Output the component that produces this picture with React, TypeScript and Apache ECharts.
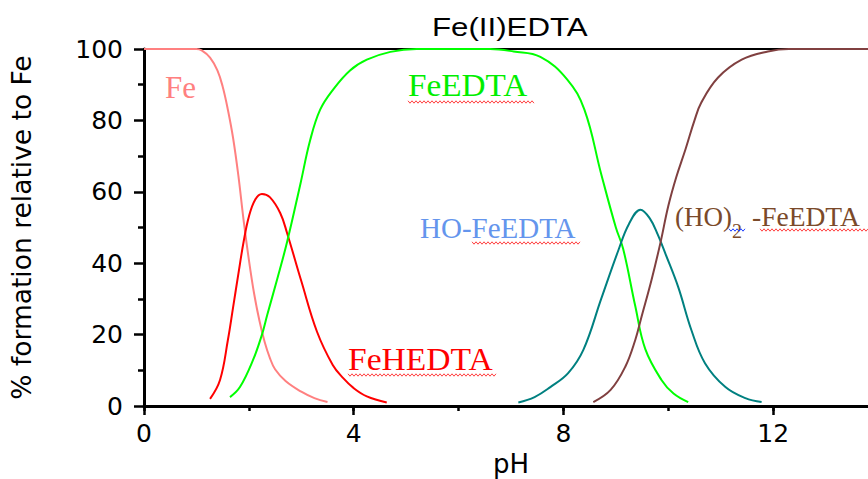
import React, { useEffect, useRef } from 'react';
import * as echarts from 'echarts';

// ---- data ----
const xTicks = [0, 4, 8, 12];
const yTicks = [0, 20, 40, 60, 80, 100];

const fePH = [0, 0.5, 1.0, 1.1, 1.26, 1.4, 1.5, 1.6, 1.7, 1.8, 1.9, 2.0, 2.1, 2.2, 2.3, 2.4, 2.5, 2.7, 3.0, 3.25, 3.5];
const feVal = [100, 100, 100, 99.6, 97.6, 94, 89.5, 83, 75, 64.5, 52, 41, 31.5, 24, 18, 13.5, 10.3, 7, 4, 2.2, 1.1];

const fehPH = [1.26, 1.45, 1.6, 1.7, 1.8, 1.9, 2.0, 2.12, 2.25, 2.4, 2.6, 2.73, 3.0, 3.3, 3.6, 3.8, 4.0, 4.25, 4.63];
const fehVal = [2, 7.3, 18.5, 27.7, 37, 46, 53, 57.8, 59.4, 58.5, 54, 48.4, 35, 20.8, 11.5, 7.8, 5, 2.7, 1];

const fedPH = [1.64, 1.83, 2.08, 2.25, 2.35, 2.54, 2.73, 2.98, 3.17, 3.36, 3.6, 3.93, 4.25, 4.7, 5.2, 6.6, 7.05, 7.56, 8.07, 8.4, 8.72, 9.0, 9.14, 9.37, 9.56, 9.87, 10.1, 10.38];
const fedVal = [2.5, 5.3, 12.9, 20, 25.5, 35.5, 46, 62, 74.5, 83, 88.5, 94, 97, 99.2, 100, 100, 99.3, 97.8, 91.5, 83, 65, 50, 44, 28, 16, 7.3, 3.5, 1.1];

const hoPH = [7.14, 7.45, 7.75, 8.09, 8.38, 8.72, 9.05, 9.25, 9.47, 9.65, 9.8, 9.95, 10.19, 10.44, 10.7, 11.09, 11.47, 11.78];
const hoVal = [1, 2.5, 5.3, 9.2, 15.7, 30, 43.7, 51, 55, 52.5, 48, 42.5, 33.3, 21.3, 12, 5.3, 2.2, 1.1];

const ho2PH = [8.57, 8.9, 9.18, 9.37, 9.49, 9.68, 9.85, 10.0, 10.15, 10.33, 10.5, 10.63, 10.95, 11.4, 11.9, 12.3, 14];
const ho2Val = [1.1, 4.5, 11, 18.5, 25, 35.3, 45.7, 56, 64, 72, 80, 85, 92, 97, 99.3, 100, 100];

const zip = (xs: number[], ys: number[]) => xs.map((x, i) => [x, ys[i]]);

const zigzag = (x0: number, x1: number, y: number, color: string) => {
  const pts: number[][] = [];
  let up = true;
  for (let x = x0; x <= x1; x += 2) {
    pts.push([x, up ? y - 1.2 : y + 1.2]);
    up = !up;
  }
  return { type: 'polyline', silent: true, shape: { points: pts }, style: { stroke: color, lineWidth: 1, fill: null } };
};

const serif = '"Liberation Serif", "Times New Roman", serif';
const sans = '"DejaVu Sans", sans-serif';

export default function App() {
  const ref = useRef<HTMLDivElement>(null);
  useEffect(() => {
    document.body.style.margin = '0';
    if (!ref.current) return;
    const chart = echarts.init(ref.current, undefined, { renderer: 'svg' });
    const lineSeries = (name: string, xs: number[], ys: number[], color: string) => ({
      name,
      type: 'line',
      data: zip(xs, ys),
      showSymbol: false,
      smooth: 0.4,
      clip: false,
      lineStyle: { color, width: 2 },
      itemStyle: { color },
      z: 3,
    });
    const common = { type: 'value', min: 0, max: 14, splitLine: { show: false } };
    chart.setOption({
      animation: false,
      backgroundColor: '#fff',
      grid: { left: 144, top: 49, bottom: 73, right: 0, containLabel: false, outerBoundsMode: 'none' },
      xAxis: [
        {
          ...common,
          interval: 4,
          position: 'bottom',
          axisLine: { show: true, onZero: false, lineStyle: { color: '#000', width: 3 } },
          axisTick: { show: true, length: 9, lineStyle: { color: '#000', width: 2.5 } },
          axisLabel: {
            color: '#000',
            fontFamily: sans,
            fontSize: 25,
            margin: 15,
            showMaxLabel: false,
            formatter: (v: number) => (xTicks.includes(v) ? String(v) : ''),
          },
          name: 'pH',
          nameLocation: 'middle',
          nameGap: 42,
          nameTextStyle: { color: '#000', fontFamily: sans, fontSize: 26 },
        },
        {
          ...common,
          interval: 2,
          position: 'bottom',
          axisLine: { show: false, onZero: false },
          axisTick: { show: true, length: 5, lineStyle: { color: '#000', width: 2.5 } },
          axisLabel: { show: false },
        },
        {
          ...common,
          interval: 4,
          position: 'top',
          axisLine: { show: true, onZero: false, lineStyle: { color: '#000', width: 2 } },
          axisTick: { show: false },
          axisLabel: { show: false },
        },
      ],
      yAxis: {
        type: 'value',
        min: 0,
        max: 100,
        interval: 20,
        axisLine: { show: true, lineStyle: { color: '#000', width: 3 } },
        axisTick: { show: true, length: 10, lineStyle: { color: '#000', width: 2.5 } },
        minorTick: { show: true, splitNumber: 2, length: 6, lineStyle: { color: '#000', width: 2.5 } },
        splitLine: { show: false },
        axisLabel: {
          color: '#000',
          fontFamily: sans,
          fontSize: 25,
          margin: 21,
          formatter: (v: number) => (yTicks.includes(v) ? String(v) : ''),
        },
        name: '% formation relative to Fe',
        nameLocation: 'middle',
        nameGap: 109,
        nameTextStyle: { color: '#000', fontFamily: sans, fontSize: 26.5 },
      },
      series: [
        lineSeries('Fe', fePH, feVal, '#FF8080'),
        lineSeries('FeHEDTA', fehPH, fehVal, '#FF0000'),
        lineSeries('FeEDTA', fedPH, fedVal, '#00FF00'),
        lineSeries('HO-FeEDTA', hoPH, hoVal, '#008080'),
        lineSeries('(HO)2-FeEDTA', ho2PH, ho2Val, '#804040'),
      ],
      graphic: [
        {
          type: 'text', x: 432, y: 27, scaleX: 1.25, silent: true,
          style: { text: 'Fe(II)EDTA', fill: '#000', font: '25px "Liberation Sans", Arial, sans-serif', verticalAlign: 'middle', align: 'left' },
        },
        {
          type: 'text', x: 165, y: 87.5, silent: true,
          style: { text: 'Fe', fill: '#FF8080', font: `31px ${serif}`, verticalAlign: 'middle', align: 'left' },
        },
        {
          type: 'text', x: 408, y: 85.5, scaleX: 1.04, silent: true,
          style: { text: 'FeEDTA', fill: '#00EE00', font: `32px ${serif}`, verticalAlign: 'middle', align: 'left' },
        },
        zigzag(408, 535, 102, '#FF4040'),
        {
          type: 'text', x: 348, y: 359, scaleX: 1.05, silent: true,
          style: { text: 'FeHEDTA', fill: '#FF0000', font: `32px ${serif}`, verticalAlign: 'middle', align: 'left' },
        },
        zigzag(348, 497, 375, '#FF4040'),
        {
          type: 'text', x: 420, y: 228, silent: true,
          style: { text: 'HO-FeEDTA', fill: '#6495ED', font: `29px ${serif}`, verticalAlign: 'middle', align: 'left' },
        },
        zigzag(472, 580, 243, '#FF4040'),
        {
          type: 'text', x: 675, y: 216.5, silent: true,
          style: { text: '(HO)', fill: '#7B4A2A', font: `27px ${serif}`, verticalAlign: 'middle', align: 'left' },
        },
        {
          type: 'text', x: 732, y: 231, silent: true,
          style: { text: '2', fill: '#7B4A2A', font: `20px ${serif}`, verticalAlign: 'middle', align: 'left' },
        },
        {
          type: 'text', x: 752, y: 216.5, silent: true,
          style: { text: '-FeEDTA', fill: '#7B4A2A', font: `27.5px ${serif}`, verticalAlign: 'middle', align: 'left' },
        },
        zigzag(729, 746, 230, '#2040FF'),
        zigzag(760, 868, 230, '#FF4040'),
      ],
    });
    return () => chart.dispose();
  }, []);
  return (
    <div style={{ width: 868, height: 479, overflow: 'hidden' }}>
      <div ref={ref} style={{ width: 878, height: 479 }} />
    </div>
  );
}
